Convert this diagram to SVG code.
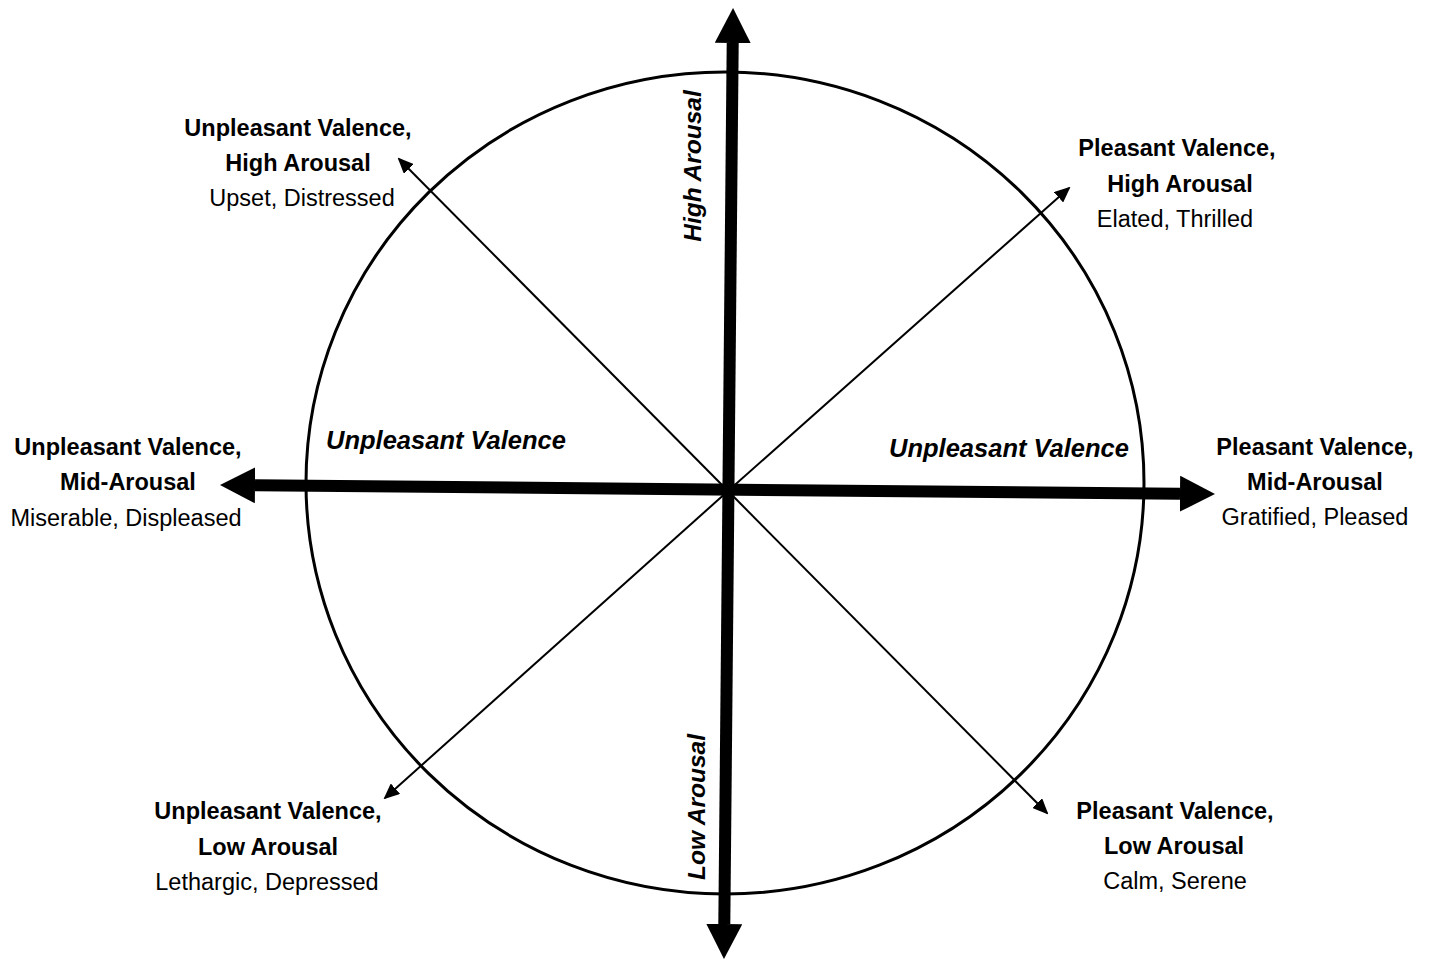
<svg xmlns="http://www.w3.org/2000/svg" width="1430" height="959" viewBox="0 0 1430 959">
  <style>
    .bg { fill: #ffffff; }
    .ring { fill: none; stroke: #000; stroke-width: 3; }
    .axis { stroke: #000; stroke-width: 12; fill: none; }
    .diag { stroke: #000; stroke-width: 2; fill: none; }
    .t { font-family: "Liberation Sans", Arial, sans-serif; font-size: 23.5px; fill: #000; text-anchor: middle; }
    .b { font-weight: bold; }
    .ax { font-family: "Liberation Sans", Arial, sans-serif; font-weight: bold; font-style: italic; fill: #000; text-anchor: middle; }
  </style>
  <defs>
    <marker id="bigHead" viewBox="0 0 35 36" refX="0" refY="18" markerWidth="35" markerHeight="36" markerUnits="userSpaceOnUse" orient="auto-start-reverse">
      <path d="M0,0 L35,18 L0,36 z" fill="#000"/>
    </marker>
    <marker id="smallHead" viewBox="0 0 16 14" refX="14" refY="7" markerWidth="16" markerHeight="14" markerUnits="userSpaceOnUse" orient="auto">
      <path d="M0,0 L16,7 L0,14 z" fill="#000"/>
    </marker>
  </defs>

  <rect class="bg" x="0" y="0" width="1430" height="959"/>

  <ellipse class="ring" cx="725" cy="483" rx="419" ry="411"/>

  <g id="connectors">
    <!-- main axes -->
    <line class="axis" x1="255" y1="485.3" x2="1180" y2="493.7" marker-start="url(#bigHead)" marker-end="url(#bigHead)"/>
    <line class="axis" x1="732.7" y1="43" x2="724.3" y2="924" marker-start="url(#bigHead)" marker-end="url(#bigHead)"/>
    <!-- diagonals -->
    <line class="diag" x1="728" y1="491" x2="399" y2="159" marker-end="url(#smallHead)"/>
    <line class="diag" x1="728" y1="491" x2="1069" y2="188" marker-end="url(#smallHead)"/>
    <line class="diag" x1="728" y1="491" x2="385" y2="798" marker-end="url(#smallHead)"/>
    <line class="diag" x1="728" y1="491" x2="1047" y2="813" marker-end="url(#smallHead)"/>
  </g>

  <g id="axis-labels">
    <text class="ax" x="446" y="449" font-size="25.5">Unpleasant Valence</text>
    <text class="ax" x="1009" y="457" font-size="25.5">Unpleasant Valence</text>
    <text class="ax" font-size="24.5" transform="translate(701,166) rotate(-90)">High Arousal</text>
    <text class="ax" font-size="24.5" transform="translate(705,807) rotate(-90)">Low Arousal</text>
  </g>

  <g id="node-nw">
    <text class="t b" x="298" y="136">Unpleasant Valence,</text>
    <text class="t b" x="298" y="171">High Arousal</text>
    <text class="t" x="302" y="206">Upset, Distressed</text>
  </g>

  <g id="node-ne">
    <text class="t b" x="1177" y="156">Pleasant Valence,</text>
    <text class="t b" x="1180" y="192">High Arousal</text>
    <text class="t" x="1175" y="227">Elated, Thrilled</text>
  </g>

  <g id="node-w">
    <text class="t b" x="128" y="455">Unpleasant Valence,</text>
    <text class="t b" x="128" y="490">Mid-Arousal</text>
    <text class="t" x="126" y="526">Miserable, Displeased</text>
  </g>

  <g id="node-e">
    <text class="t b" x="1315" y="455">Pleasant Valence,</text>
    <text class="t b" x="1315" y="490">Mid-Arousal</text>
    <text class="t" x="1315" y="525">Gratified, Pleased</text>
  </g>

  <g id="node-sw">
    <text class="t b" x="268" y="819">Unpleasant Valence,</text>
    <text class="t b" x="268" y="855">Low Arousal</text>
    <text class="t" x="267" y="890">Lethargic, Depressed</text>
  </g>

  <g id="node-se">
    <text class="t b" x="1175" y="819">Pleasant Valence,</text>
    <text class="t b" x="1174" y="854">Low Arousal</text>
    <text class="t" x="1175" y="889">Calm, Serene</text>
  </g>
</svg>
